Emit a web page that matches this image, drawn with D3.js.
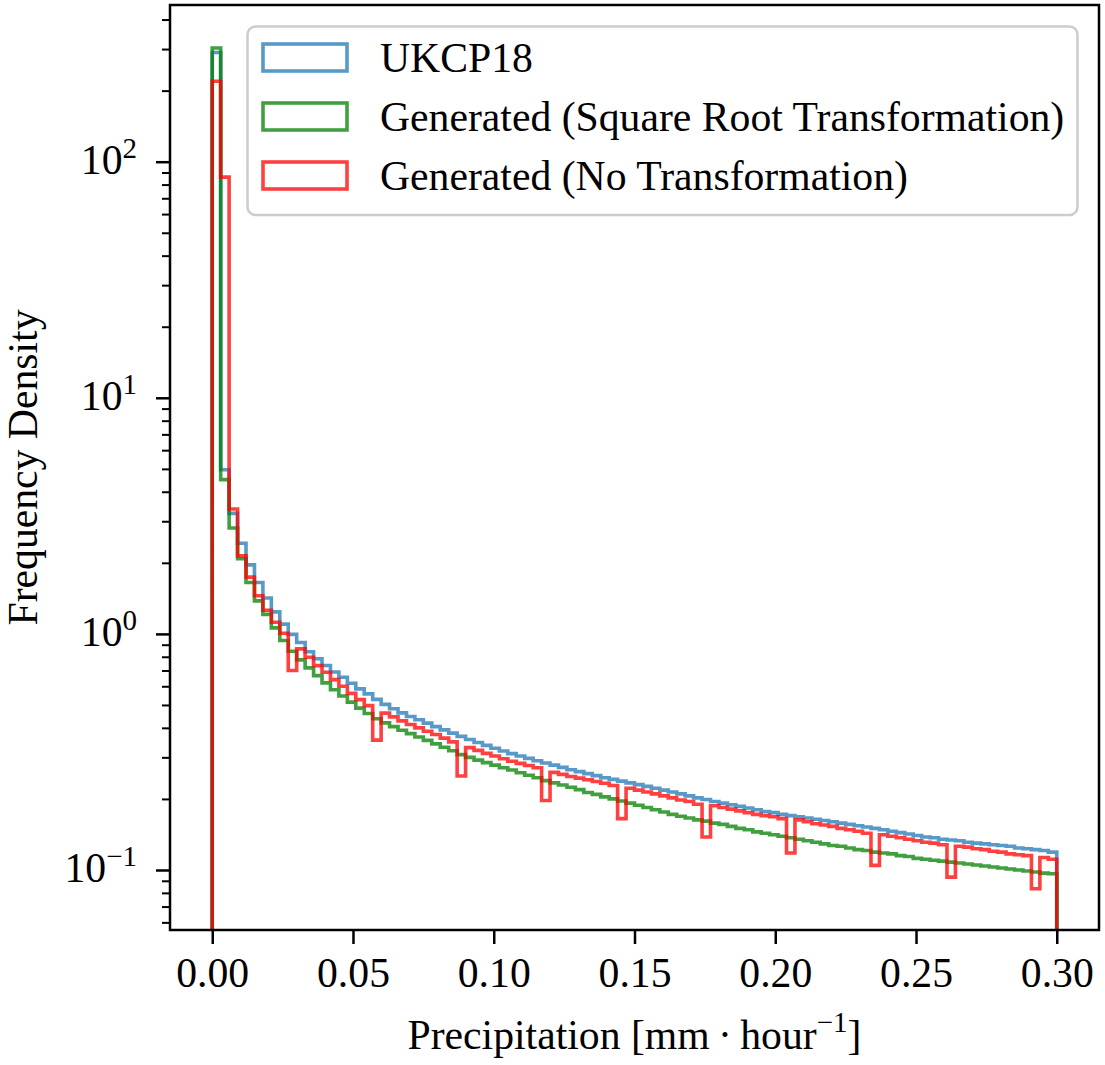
<!DOCTYPE html>
<meta charset="UTF-8">
<style>
body { margin: 0; background: #fff; }
svg text { font-family: "Liberation Serif", "DejaVu Serif", serif; fill: #000; }
.hist { fill: none; stroke-width: 3.6px; stroke-opacity: 0.75; stroke-linejoin: miter; }
</style>
<body>
<script src="https://d3js.org/d3.v7.min.js"></script>
<script>

// 100 bins of width 0.003 between 0 and 0.3 mm/hour
var binStart = 0, binWidth = 0.003, binCount = 100;

// frequency density per bin
var ukcp18 = [
  290, 4.96, 3.24, 2.42, 1.96, 1.65, 1.42, 1.24, 1.10, 0.995,
  0.920, 0.840, 0.785, 0.735, 0.690, 0.655, 0.618, 0.585, 0.557, 0.528,
  0.503, 0.482, 0.463, 0.447, 0.433, 0.419, 0.405, 0.392, 0.380, 0.368,
  0.357, 0.347, 0.337, 0.328, 0.319, 0.311, 0.304, 0.297, 0.290, 0.284,
  0.278, 0.272, 0.266, 0.261, 0.256, 0.251, 0.246, 0.242, 0.238, 0.234,
  0.230, 0.226, 0.222, 0.218, 0.214, 0.210, 0.206, 0.202, 0.199, 0.195,
  0.192, 0.189, 0.186, 0.183, 0.180, 0.177, 0.175, 0.172, 0.170, 0.168,
  0.166, 0.164, 0.162, 0.160, 0.158, 0.156, 0.154, 0.152, 0.150, 0.148,
  0.146, 0.144, 0.142, 0.140, 0.138, 0.137, 0.135, 0.134, 0.133, 0.131,
  0.130, 0.129, 0.128, 0.127, 0.126, 0.124, 0.123, 0.122, 0.121, 0.119
];

var genSqrt = [
  303, 4.50, 2.81, 2.08, 1.65, 1.38, 1.21, 1.06, 0.937, 0.844,
  0.776, 0.718, 0.666, 0.620, 0.580, 0.546, 0.514, 0.485, 0.460, 0.437,
  0.420, 0.405, 0.391, 0.378, 0.366, 0.354, 0.342, 0.331, 0.320, 0.308,
  0.300, 0.292, 0.285, 0.278, 0.271, 0.265, 0.258, 0.252, 0.246, 0.239,
  0.234, 0.229, 0.224, 0.219, 0.213, 0.209, 0.204, 0.200, 0.196, 0.192,
  0.188, 0.184, 0.180, 0.176, 0.172, 0.169, 0.166, 0.163, 0.161, 0.158,
  0.156, 0.153, 0.150, 0.148, 0.145, 0.143, 0.141, 0.139, 0.137, 0.135,
  0.133, 0.131, 0.129, 0.127, 0.126, 0.124, 0.122, 0.121, 0.119, 0.118,
  0.117, 0.115, 0.114, 0.112, 0.111, 0.110, 0.109, 0.108, 0.107, 0.106,
  0.105, 0.104, 0.103, 0.102, 0.101, 0.100, 0.099, 0.098, 0.097, 0.0964
];

var genNoTransform = [
  219, 86, 3.38, 2.14, 1.74, 1.45, 1.26, 1.12, 1.006, 0.700,
  0.864, 0.796, 0.734, 0.688, 0.640, 0.600, 0.560, 0.527, 0.497, 0.355,
  0.462, 0.445, 0.428, 0.413, 0.400, 0.387, 0.375, 0.362, 0.349, 0.250,
  0.330, 0.321, 0.312, 0.304, 0.296, 0.289, 0.283, 0.277, 0.271, 0.197,
  0.259, 0.254, 0.249, 0.245, 0.241, 0.237, 0.233, 0.228, 0.165, 0.222,
  0.218, 0.214, 0.210, 0.206, 0.202, 0.198, 0.195, 0.190, 0.138, 0.187,
  0.184, 0.181, 0.178, 0.175, 0.172, 0.170, 0.168, 0.165, 0.118, 0.163,
  0.160, 0.157, 0.155, 0.153, 0.150, 0.148, 0.146, 0.143, 0.1046, 0.141,
  0.139, 0.137, 0.135, 0.133, 0.131, 0.130, 0.128, 0.0933, 0.126, 0.125,
  0.123, 0.122, 0.120, 0.119, 0.117, 0.116, 0.115, 0.0833, 0.113, 0.111
];

var seriesNames = ["UKCP18", "Generated (Square Root Transformation)", "Generated (No Transformation)"];
var seriesColors = ["#1f77b4", "#008000", "#ff0000"];
var xTicks = [0, 0.05, 0.10, 0.15, 0.20, 0.25, 0.30];
var yTicks = [0.1, 1, 10, 100];
var yTickExp = ["\u22121", "0", "1", "2"];

var W = 1105, H = 1065;
var plot = {left: 170, top: 5, right: 1099, bottom: 930};
var fs = 41.7, fsSup = 29;

var svg = d3.select("body").append("svg")
    .attr("width", W)
    .attr("height", H);

var x = d3.scaleLinear()
    .domain([-0.015, 0.315])
    .range([plot.left, plot.right]);

var y = d3.scaleLog()
    .domain([0.0557, 461])
    .range([plot.bottom, plot.top]);

var edges = d3.range(binCount + 1).map(function(i) { return binStart + i * binWidth; });

svg.append("clipPath").attr("id", "clip")
  .append("rect")
    .attr("x", plot.left).attr("y", plot.top)
    .attr("width", plot.right - plot.left)
    .attr("height", plot.bottom - plot.top);

// step outline like a matplotlib 'step' histogram
function stepPath(vals) {
  var bottom = plot.bottom + 10;
  var p = "M" + x(edges[0]) + "," + bottom;
  vals.forEach(function(v, i) {
    p += "L" + x(edges[i]) + "," + y(v) + "L" + x(edges[i + 1]) + "," + y(v);
  });
  p += "L" + x(edges[binCount]) + "," + bottom;
  return p;
}

var g = svg.append("g").attr("clip-path", "url(#clip)");
[ukcp18, genSqrt, genNoTransform].forEach(function(vals, k) {
  g.append("path")
    .attr("class", "hist")
    .attr("d", stepPath(vals))
    .style("stroke", seriesColors[k]);
});

// ---- axes ----
var xAxis = svg.append("g")
    .attr("transform", "translate(0," + plot.bottom + ")")
    .call(d3.axisBottom(x).tickValues(xTicks).tickSize(14).tickPadding(12)
      .tickFormat(d3.format(".2f")));
xAxis.select(".domain").remove();
xAxis.selectAll(".tick line").attr("stroke", "#000").attr("stroke-width", 2.5);
xAxis.selectAll(".tick text").attr("font-size", fs).attr("font-family", null)
    .attr("dy", null).attr("y", 57);

// minor log ticks
var minor = [];
[-2, -1, 0, 1, 2].forEach(function(e) {
  for (var m = 2; m <= 9; m++) {
    var v = m * Math.pow(10, e);
    if (v > y.domain()[0] && v < y.domain()[1]) minor.push(v);
  }
});
var yMinor = svg.append("g")
    .attr("transform", "translate(" + plot.left + ",0)")
    .call(d3.axisLeft(y).tickValues(minor).tickSize(8).tickFormat(""));
yMinor.select(".domain").remove();
yMinor.selectAll(".tick line").attr("stroke", "#000").attr("stroke-width", 2);

var yAxis = svg.append("g")
    .attr("transform", "translate(" + plot.left + ",0)")
    .call(d3.axisLeft(y).tickValues(yTicks).tickSize(14).tickFormat(""));
yAxis.select(".domain").remove();
yAxis.selectAll(".tick line").attr("stroke", "#000").attr("stroke-width", 2.5);

// power-of-ten labels
yTicks.forEach(function(v, i) {
  var t = svg.append("text")
      .attr("x", 137)
      .attr("y", y(v) + 12)
      .attr("text-anchor", "end")
      .attr("font-size", fs);
  t.append("tspan").text("10");
  t.append("tspan").attr("dy", -16).attr("font-size", fsSup).text(yTickExp[i]);
});

// spines
svg.append("rect")
    .attr("x", plot.left).attr("y", plot.top)
    .attr("width", plot.right - plot.left)
    .attr("height", plot.bottom - plot.top)
    .attr("fill", "none")
    .attr("stroke", "#000")
    .attr("stroke-width", 2.5);

// axis titles
var xl = svg.append("text")
    .attr("x", (plot.left + plot.right) / 2)
    .attr("y", 1049)
    .attr("text-anchor", "middle")
    .attr("font-size", fs);
xl.append("tspan").text("Precipitation [mm\u2009\u00b7\u2009hour");
xl.append("tspan").attr("dy", -17).attr("font-size", fsSup).text("\u22121");
xl.append("tspan").attr("dy", 17).text("]");

svg.append("text")
    .attr("transform", "translate(37," + ((plot.top + plot.bottom) / 2) + ") rotate(-90)")
    .attr("text-anchor", "middle")
    .attr("font-size", fs)
    .text("Frequency Density");

// ---- legend ----
var legend = svg.append("g");
legend.append("rect")
    .attr("x", 247.5).attr("y", 26.5)
    .attr("width", 830).attr("height", 188.5)
    .attr("rx", 8)
    .attr("fill", "#fff").attr("fill-opacity", 0.8)
    .attr("stroke", "#cccccc").attr("stroke-width", 2.5);

seriesNames.forEach(function(name, i) {
  var row = legend.append("g").attr("transform", "translate(0," + (i * 59) + ")");
  row.append("rect")
      .attr("x", 263).attr("y", 44)
      .attr("width", 84).attr("height", 27)
      .attr("fill", "none")
      .attr("stroke", seriesColors[i])
      .attr("stroke-opacity", 0.75)
      .attr("stroke-width", 3.6);
  row.append("text")
      .attr("x", 380).attr("y", 72)
      .attr("font-size", fs)
      .text(name);
});

</script>
</body>
